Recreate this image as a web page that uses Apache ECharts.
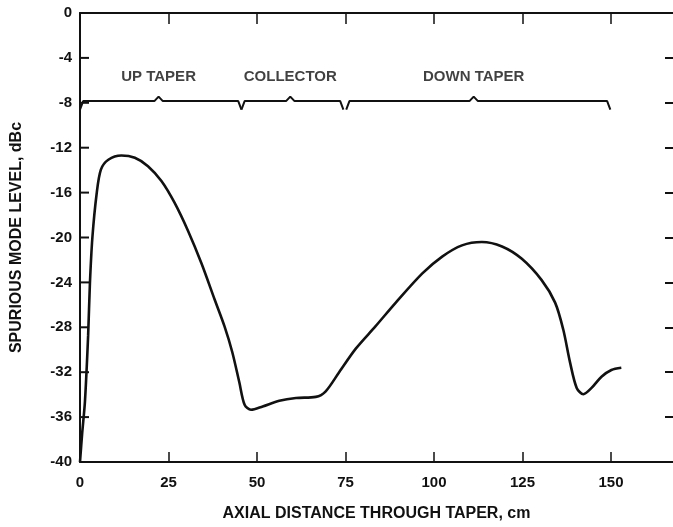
<!DOCTYPE html>
<html>
<head>
<meta charset="utf-8">
<script src="https://cdn.jsdelivr.net/npm/echarts@6/dist/echarts.min.js"></script>
<style>
  html, body { margin: 0; padding: 0; background: #fff; }
  #chart { width: 673px; height: 527px; }
</style>
</head>
<body>
<div id="chart"></div>
<script>
// curve
const distance = [0, 0.6, 1.4, 2.3, 2.8, 3.5, 4.7, 5.9, 8.0, 11.7, 15.5, 19.2, 23.0, 26.7, 30.5, 34.3,
  38.0, 40.8, 43.0, 45.0, 46.5, 48.3, 51.6, 56.3, 61.0, 66.6, 69.4, 73.2, 77.9, 83.5, 89.2, 96.7,
  102.3, 107.9, 113.5, 119.2, 124.8, 130.4, 134.2, 136.5, 138.4, 140.3, 142.2, 144.5, 147.3, 150.1, 152.9];
const level = [-40, -37.5, -34.6, -28.7, -24.1, -20.0, -16.1, -13.95, -13.07, -12.69, -12.9, -13.65, -14.97, -16.9, -19.4, -22.3,
  -25.5, -27.9, -30.2, -32.9, -34.9, -35.35, -35.05, -34.55, -34.3, -34.2, -33.7, -32.0, -29.9, -27.9, -25.8, -23.2,
  -21.7, -20.7, -20.4, -20.8, -21.9, -23.8, -25.8, -28.2, -31.1, -33.4, -33.96, -33.4, -32.4, -31.8, -31.6];

// axis ticks
const xTicks = [0, 25, 50, 75, 100, 125, 150];
const yTicks = [0, -4, -8, -12, -16, -20, -24, -28, -32, -36, -40];

// sections of the taper (braces at top)
const regionNames = ['UP TAPER', 'COLLECTOR', 'DOWN TAPER'];
const regionStart = [0, 45.6, 75.2];
const regionMid = [22.2, 59.4, 111.2];
const regionEnd = [45.6, 74.4, 149.8];

const braceY = -7.85;
const labelY = -5.7;

const chart = echarts.init(document.getElementById('chart'));

const font = 'Liberation Sans, Arial, sans-serif';
const black = '#111';

const braceSeries = regionNames.map((n, i) => {
  const a = regionStart[i], m = regionMid[i], b = regionEnd[i];
  return {
    type: 'line',
    silent: true,
    symbol: 'none',
    lineStyle: { color: black, width: 2 },
    data: [[a, -8.6], [a + 0.9, braceY], [m - 1.2, braceY], [m, -7.45], [m + 1.2, braceY], [b - 0.9, braceY], [b, -8.6]]
  };
});

chart.setOption({
  animation: false,
  grid: { left: 80, top: 13, right: -2, bottom: 59 },
  xAxis: [{
    type: 'value', min: 0, max: 167.5, interval: 25,
    name: 'AXIAL DISTANCE THROUGH TAPER, cm', nameLocation: 'middle', nameGap: 44,
    nameTextStyle: { fontFamily: font, fontSize: 16, fontWeight: 'bold', color: black },
    axisLine: { onZero: false, lineStyle: { color: black, width: 2 } },
    axisTick: { inside: true, length: 10, customValues: xTicks, lineStyle: { color: black, width: 1.5 } },
    axisLabel: { fontFamily: font, fontSize: 15, fontWeight: 'bold', color: black, margin: 13,
      customValues: xTicks },
    splitLine: { show: false }
  }, {
    type: 'value', position: 'top', min: 0, max: 167.5, interval: 25,
    axisLine: { show: true, onZero: false, lineStyle: { color: black, width: 2 } },
    axisTick: { inside: true, length: 11, customValues: xTicks, lineStyle: { color: black, width: 1.5 } },
    axisLabel: { show: false },
    splitLine: { show: false }
  }],
  yAxis: [{
    type: 'value', min: -40, max: 0, interval: 4,
    name: 'SPURIOUS MODE LEVEL, dBc', nameLocation: 'middle', nameGap: 55,
    nameTextStyle: { fontFamily: font, fontSize: 16, fontWeight: 'bold', color: black },
    axisLine: { show: true, onZero: false, lineStyle: { color: black, width: 2 } },
    axisTick: { show: false },
    axisLabel: { fontFamily: font, fontSize: 15, fontWeight: 'bold', color: black, margin: 8,
      customValues: yTicks },
    splitLine: { show: false }
  }, {
    type: 'value', position: 'right', min: -40, max: 0, interval: 4,
    axisLine: { show: false, onZero: false },
    axisTick: { show: true, inside: true, length: 8, customValues: yTicks.slice(1, -1),
      lineStyle: { color: black, width: 2 } },
    axisLabel: { show: false },
    splitLine: { show: false }
  }],
  series: [{
    type: 'line',
    symbol: 'none',
    smooth: 0.3,
    lineStyle: { color: black, width: 2.6 },
    data: distance.map((d, i) => [d, level[i]])
  }, ...braceSeries, {
    // inward ticks on the left axis, placed through the axis scales
    type: 'custom',
    silent: true,
    clip: false,
    data: yTicks.slice(1, -1).map(v => [0, v]),
    renderItem: (params, api) => {
      const p = api.coord([api.value(0), api.value(1)]);
      return {
        type: 'line',
        shape: { x1: p[0], y1: p[1], x2: p[0] + 9, y2: p[1] },
        style: { stroke: black, lineWidth: 2 }
      };
    }
  }, {
    type: 'scatter',
    silent: true,
    symbolSize: 0,
    label: {
      show: true, position: 'inside', formatter: p => p.data.name,
      fontFamily: font, fontSize: 15, fontWeight: 'bold', color: black
    },
    data: regionNames.map((n, i) => ({ name: n, value: [regionMid[i], labelY] }))
  }]
});
</script>
</body>
</html>
